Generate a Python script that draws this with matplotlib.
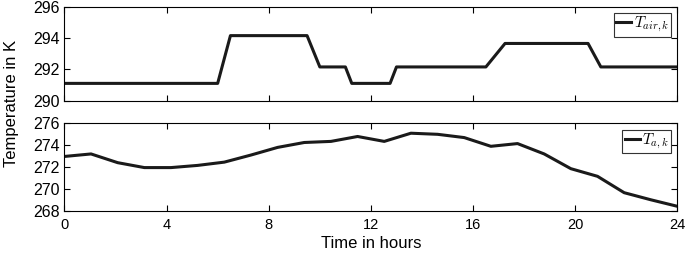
import numpy as np
import matplotlib
matplotlib.use('Agg')
import matplotlib.pyplot as plt

plt.rcParams['font.family'] = ['Liberation Sans', 'DejaVu Sans']
plt.rcParams['mathtext.fontset'] = 'cm'

# Lufttemperatur (Stufenprofil)
t_air = [0, 6.0, 6.5, 9.5, 10.0, 11.0, 11.25, 12.75, 13.0, 16.5, 17.25, 20.5, 21.0, 24]
T_air = [291.1, 291.1, 294.15, 294.15, 292.15, 292.15, 291.1, 291.1, 292.15, 292.15,
         293.65, 293.65, 292.15, 292.15]

# Aussentemperatur, 24 Werte ueber den Tag
t_a = np.linspace(0, 24, 24)
T_a = [272.97, 273.2, 272.4, 271.95, 271.95, 272.15, 272.45, 273.1, 273.8, 274.25,
       274.35, 274.8, 274.35, 275.1, 275.0, 274.7, 273.9, 274.15, 273.2, 271.85,
       271.15, 269.65, 269.0, 268.4]

xticks = [0, 4, 8, 12, 16, 20, 24]

fig = plt.figure(figsize=(6.85, 2.56), dpi=100)
ax1 = fig.add_axes([0.094, 0.607, 0.895, 0.367])
ax2 = fig.add_axes([0.094, 0.177, 0.895, 0.341])

ax1.plot(t_air, T_air, color='#1a1a1a', lw=2.2, label=r'$T_{air,k}$')
ax2.plot(t_a, T_a, color='#1a1a1a', lw=2.2, label=r'$T_{a,k}$')

ax1.set_ylim(290, 296)
ax1.set_yticks([290, 292, 294, 296])
ax2.set_ylim(268, 276)
ax2.set_yticks([268, 270, 272, 274, 276])

for ax in (ax1, ax2):
    ax.set_xlim(0, 24)
    ax.set_xticks(xticks)
    ax.tick_params(direction='in', top=True, right=True, length=4, width=0.8)
    ax.tick_params(axis='y', labelsize=11.5)
    ax.tick_params(axis='x', labelsize=10.5, pad=5)
    for s in ax.spines.values():
        s.set_linewidth(0.8)
    leg = ax.legend(loc='upper right', fontsize=11, handlelength=1.0, handletextpad=0.15,
                    borderpad=0.15, borderaxespad=0.4, fancybox=False, framealpha=1)
    leg.get_frame().set_edgecolor('#333333')
    leg.get_frame().set_linewidth(0.8)

ax1.set_xticklabels([])
ax2.set_xlabel('Time in hours', fontsize=12, labelpad=3)
fig.text(0.017, 0.594, 'Temperature in K', rotation=90, va='center', ha='center', fontsize=12)

fig.savefig('out.png', dpi=100)
